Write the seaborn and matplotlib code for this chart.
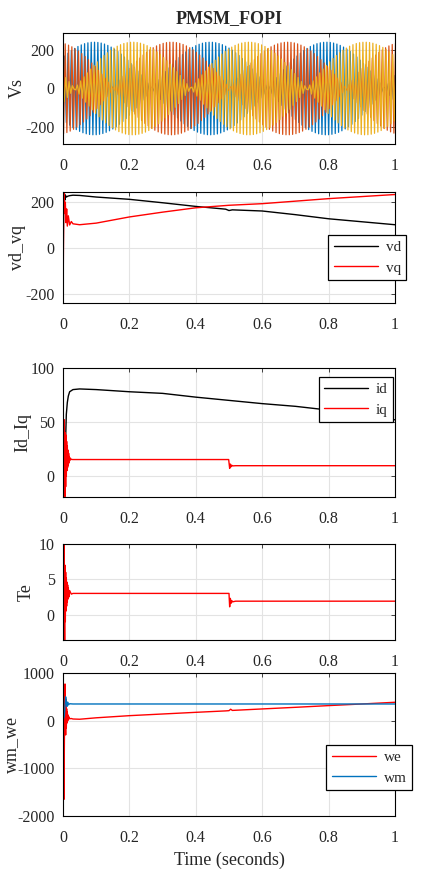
import numpy as np
import pandas as pd
import matplotlib
matplotlib.use("Agg")
import matplotlib.pyplot as plt
import seaborn as sns

# Vs : three phase stator voltages, logged coarsely so the plot shows a beat pattern
vs_amplitude = 242.0
vs_sample_rate = 200.0     # samples per second in the log
vs_beat_period = 0.35      # s, period of the envelope pattern seen in the plot
vs_peak_time = 0.21        # s, where the yellow phase envelope peaks
vs_phases = ["Va", "Vb", "Vc"]
vs_colors = ["#0072BD", "#D95319", "#EDB120"]

# vd / vq
vd_t = [0, 0.0015, 0.003, 0.004, 0.005, 0.006, 0.008, 0.01, 0.015, 0.02, 0.03, 0.05,
        0.1, 0.2, 0.3, 0.4, 0.49, 0.5, 0.51, 0.6, 0.7, 0.8, 0.9, 1.0]
vd = [-241, 150, 244, 190, 235, 210, 228, 222, 226, 228, 230, 229,
      222, 212, 197, 181, 169, 163, 166, 161, 145, 127, 114, 101]
vq_t = [0, 0.002, 0.003, 0.005, 0.007, 0.009, 0.011, 0.013, 0.016, 0.02, 0.025, 0.03,
        0.05, 0.1, 0.2, 0.3, 0.4, 0.5, 0.6, 0.7, 0.8, 0.9, 1.0]
vq = [-241, 120, 240, 150, 200, 110, 170, 95, 140, 100, 115, 105,
      101, 108, 135, 156, 175, 186, 193, 204, 215, 224, 233]

# id / iq
id_t = [0, 0.002, 0.004, 0.006, 0.008, 0.01, 0.013, 0.016, 0.02, 0.03, 0.05,
        0.1, 0.2, 0.3, 0.4, 0.5, 0.6, 0.7, 0.8, 0.9, 1.0]
id_vals = [0, -15, -18, 5, 35, 57, 68, 74, 78, 80, 80.6,
           80, 78, 76.5, 73, 70, 67, 64.5, 61, 57, 52]
iq_t = [0, 0.002, 0.004, 0.005, 0.006, 0.007, 0.008, 0.009, 0.010, 0.011, 0.012,
        0.013, 0.014, 0.015, 0.016, 0.017, 0.018, 0.019, 0.02, 0.022, 0.025, 0.03,
        0.1, 0.3, 0.499, 0.502, 0.504, 0.506, 0.508, 0.51, 0.52, 0.6, 0.8, 1.0]
iq_vals = [0, 30, 52, 10, -19, 40, -10, 38, 0, 32, 5,
           28, 8, 24, 10, 21, 12, 18, 14, 16.5, 15.3, 15.2,
           15.2, 15.2, 15.2, 7, 11, 8.5, 10, 9.3, 9.5, 9.5, 9.5, 9.5]

# Te
te_t = [0, 0.002, 0.003, 0.004, 0.005, 0.006, 0.007, 0.008, 0.009, 0.01, 0.011,
        0.012, 0.013, 0.014, 0.015, 0.016, 0.018, 0.02, 0.025, 0.03, 0.1, 0.3,
        0.5, 0.502, 0.504, 0.506, 0.508, 0.51, 0.52, 0.6, 0.8, 1.0]
te_vals = [0, 6, 10, 2, -3.6, 7, -1, 6, 0.5, 5.2, 1.2,
           4.6, 1.8, 4.2, 2.2, 3.8, 2.5, 3.4, 2.9, 3.0, 3.0, 3.0,
           3.0, 1.1, 2.3, 1.6, 2.0, 1.8, 1.9, 1.9, 1.9, 1.9]

# we / wm
we_t = [0, 0.002, 0.003, 0.004, 0.005, 0.006, 0.007, 0.008, 0.009, 0.01, 0.011,
        0.012, 0.013, 0.014, 0.015, 0.016, 0.018, 0.02, 0.025, 0.03, 0.05, 0.1,
        0.2, 0.3, 0.4, 0.49, 0.5, 0.505, 0.51, 0.6, 0.7, 0.8, 0.9, 1.0]
we_vals = [0, -900, -1650, -600, 300, 770, 100, -300, 450, -150, 250,
           -50, 180, 0, 120, 20, 80, 40, 45, 35, 30, 60,
           105, 140, 175, 205, 210, 240, 215, 246, 280, 316, 350, 386]
wm_t = [0, 0.004, 0.006, 0.008, 0.01, 0.012, 0.014, 0.016, 0.02, 0.03, 1.0]
wm_vals = [0, 100, 300, 500, 380, 300, 390, 330, 355, 350, 350]

xtick_vals = [0, 0.2, 0.4, 0.6, 0.8, 1.0]
xtick_labels = ["0", "0.2", "0.4", "0.6", "0.8", "1"]

sns.set_theme(style="whitegrid")
plt.rcParams["font.family"] = ["Liberation Serif", "DejaVu Serif"]
plt.rcParams.update({
    "axes.edgecolor": "black",
    "axes.linewidth": 0.8,
    "grid.color": "#e3e3e3",
    "grid.linewidth": 0.8,
    "xtick.color": "#262626",
    "ytick.color": "#262626",
})

fig = plt.figure(figsize=(4.26, 8.81), dpi=100)
W, H = 426.0, 881.0


def make_axes(top, bottom, left=63, right=395):
    return fig.add_axes([left / W, 1 - bottom / H, (right - left) / W, (bottom - top) / H])


def style_axes(ax, ylim, yticks, ylabel, label_x):
    ax.set_xlim(0, 1)
    ax.set_ylim(*ylim)
    ax.set_xticks(xtick_vals)
    ax.set_xticklabels(xtick_labels)
    ax.set_yticks(yticks)
    ax.set_yticklabels([str(v) for v in yticks])
    ax.tick_params(axis="both", direction="in", length=3, width=0.6,
                   top=True, right=True, labelsize=11.5, colors="#262626")
    ax.tick_params(axis="x", pad=10)
    ax.tick_params(axis="y", pad=6)
    ax.grid(True)
    ax.set_xlabel("")
    ax.set_ylabel(ylabel, fontsize=13, va="center")
    ax.yaxis.set_label_coords((label_x - 63) / 332.0, 0.5)
    for s in ax.spines.values():
        s.set_color("black")
        s.set_linewidth(0.8)


def add_legend(ax, x, y):
    leg = ax.legend(loc="upper right", bbox_to_anchor=(x, y), borderaxespad=0,
                    fontsize=11, handlelength=2.9, frameon=True, fancybox=False,
                    framealpha=1, edgecolor="black", labelspacing=0.45,
                    borderpad=0.35, handletextpad=0.5)
    leg.get_frame().set_linewidth(0.9)


# --- Vs ---
ax1 = make_axes(33, 144)
k = np.arange(int(vs_sample_rate) + 1)
delta = 1.0 / (2 * vs_beat_period)
freq = vs_sample_rate / 2 - delta
phi0 = np.pi / 2 + 2 * np.pi / 3 + 2 * np.pi * delta * vs_peak_time
frames = []
for i, name in enumerate(vs_phases):
    t = (k + i / 3.0) / vs_sample_rate
    v = vs_amplitude * np.sin(2 * np.pi * freq * t + phi0 - 2 * np.pi * i / 3.0)
    frames.append(pd.DataFrame({"t": t, "v": v, "phase": name}))
vs_df = pd.concat(frames, ignore_index=True)
sns.lineplot(data=vs_df, x="t", y="v", hue="phase", palette=vs_colors,
             estimator=None, sort=False, linewidth=0.9, legend=False, ax=ax1)
style_axes(ax1, (-290, 290), [-200, 0, 200], "Vs", 17)
ax1.set_title("PMSM_FOPI", fontsize=13, fontweight="bold", pad=7)

# --- vd vq ---
ax2 = make_axes(192, 303)
sns.lineplot(x=vd_t, y=vd, color="black", linewidth=1.0, label="vd",
             estimator=None, sort=False, ax=ax2)
sns.lineplot(x=vq_t, y=vq, color="#ff0000", linewidth=1.0, label="vq",
             estimator=None, sort=False, ax=ax2)
style_axes(ax2, (-241, 244), [-200, 0, 200], "vd_vq", 17)
add_legend(ax2, (406 - 63) / 332.0, (303 - 235) / 111.0)

# --- id iq ---
ax3 = make_axes(368, 497)
sns.lineplot(x=id_t, y=id_vals, color="black", linewidth=1.0, label="id",
             estimator=None, sort=False, ax=ax3)
sns.lineplot(x=iq_t, y=iq_vals, color="#ff0000", linewidth=1.0, label="iq",
             estimator=None, sort=False, ax=ax3)
style_axes(ax3, (-19.5, 100), [0, 50, 100], "Id_Iq", 23)
add_legend(ax3, (393 - 63) / 332.0, (497 - 377) / 129.0)

# --- Te ---
ax4 = make_axes(544, 640)
sns.lineplot(x=te_t, y=te_vals, color="#ff0000", linewidth=1.0,
             estimator=None, sort=False, legend=False, ax=ax4)
style_axes(ax4, (-3.6, 10), [0, 5, 10], "Te", 26)

# --- wm we ---
ax5 = make_axes(673, 816)
sns.lineplot(x=we_t, y=we_vals, color="#ff0000", linewidth=1.0, label="we",
             estimator=None, sort=False, ax=ax5)
sns.lineplot(x=wm_t, y=wm_vals, color="#0072BD", linewidth=1.0, label="wm",
             estimator=None, sort=False, ax=ax5)
style_axes(ax5, (-2000, 1000), [-2000, -1000, 0, 1000], "wm_we", 12)
add_legend(ax5, (412 - 63) / 332.0, (816 - 745) / 143.0)
ax5.set_xlabel("Time (seconds)", fontsize=13, labelpad=4)

fig.savefig("out.png", dpi=100)
